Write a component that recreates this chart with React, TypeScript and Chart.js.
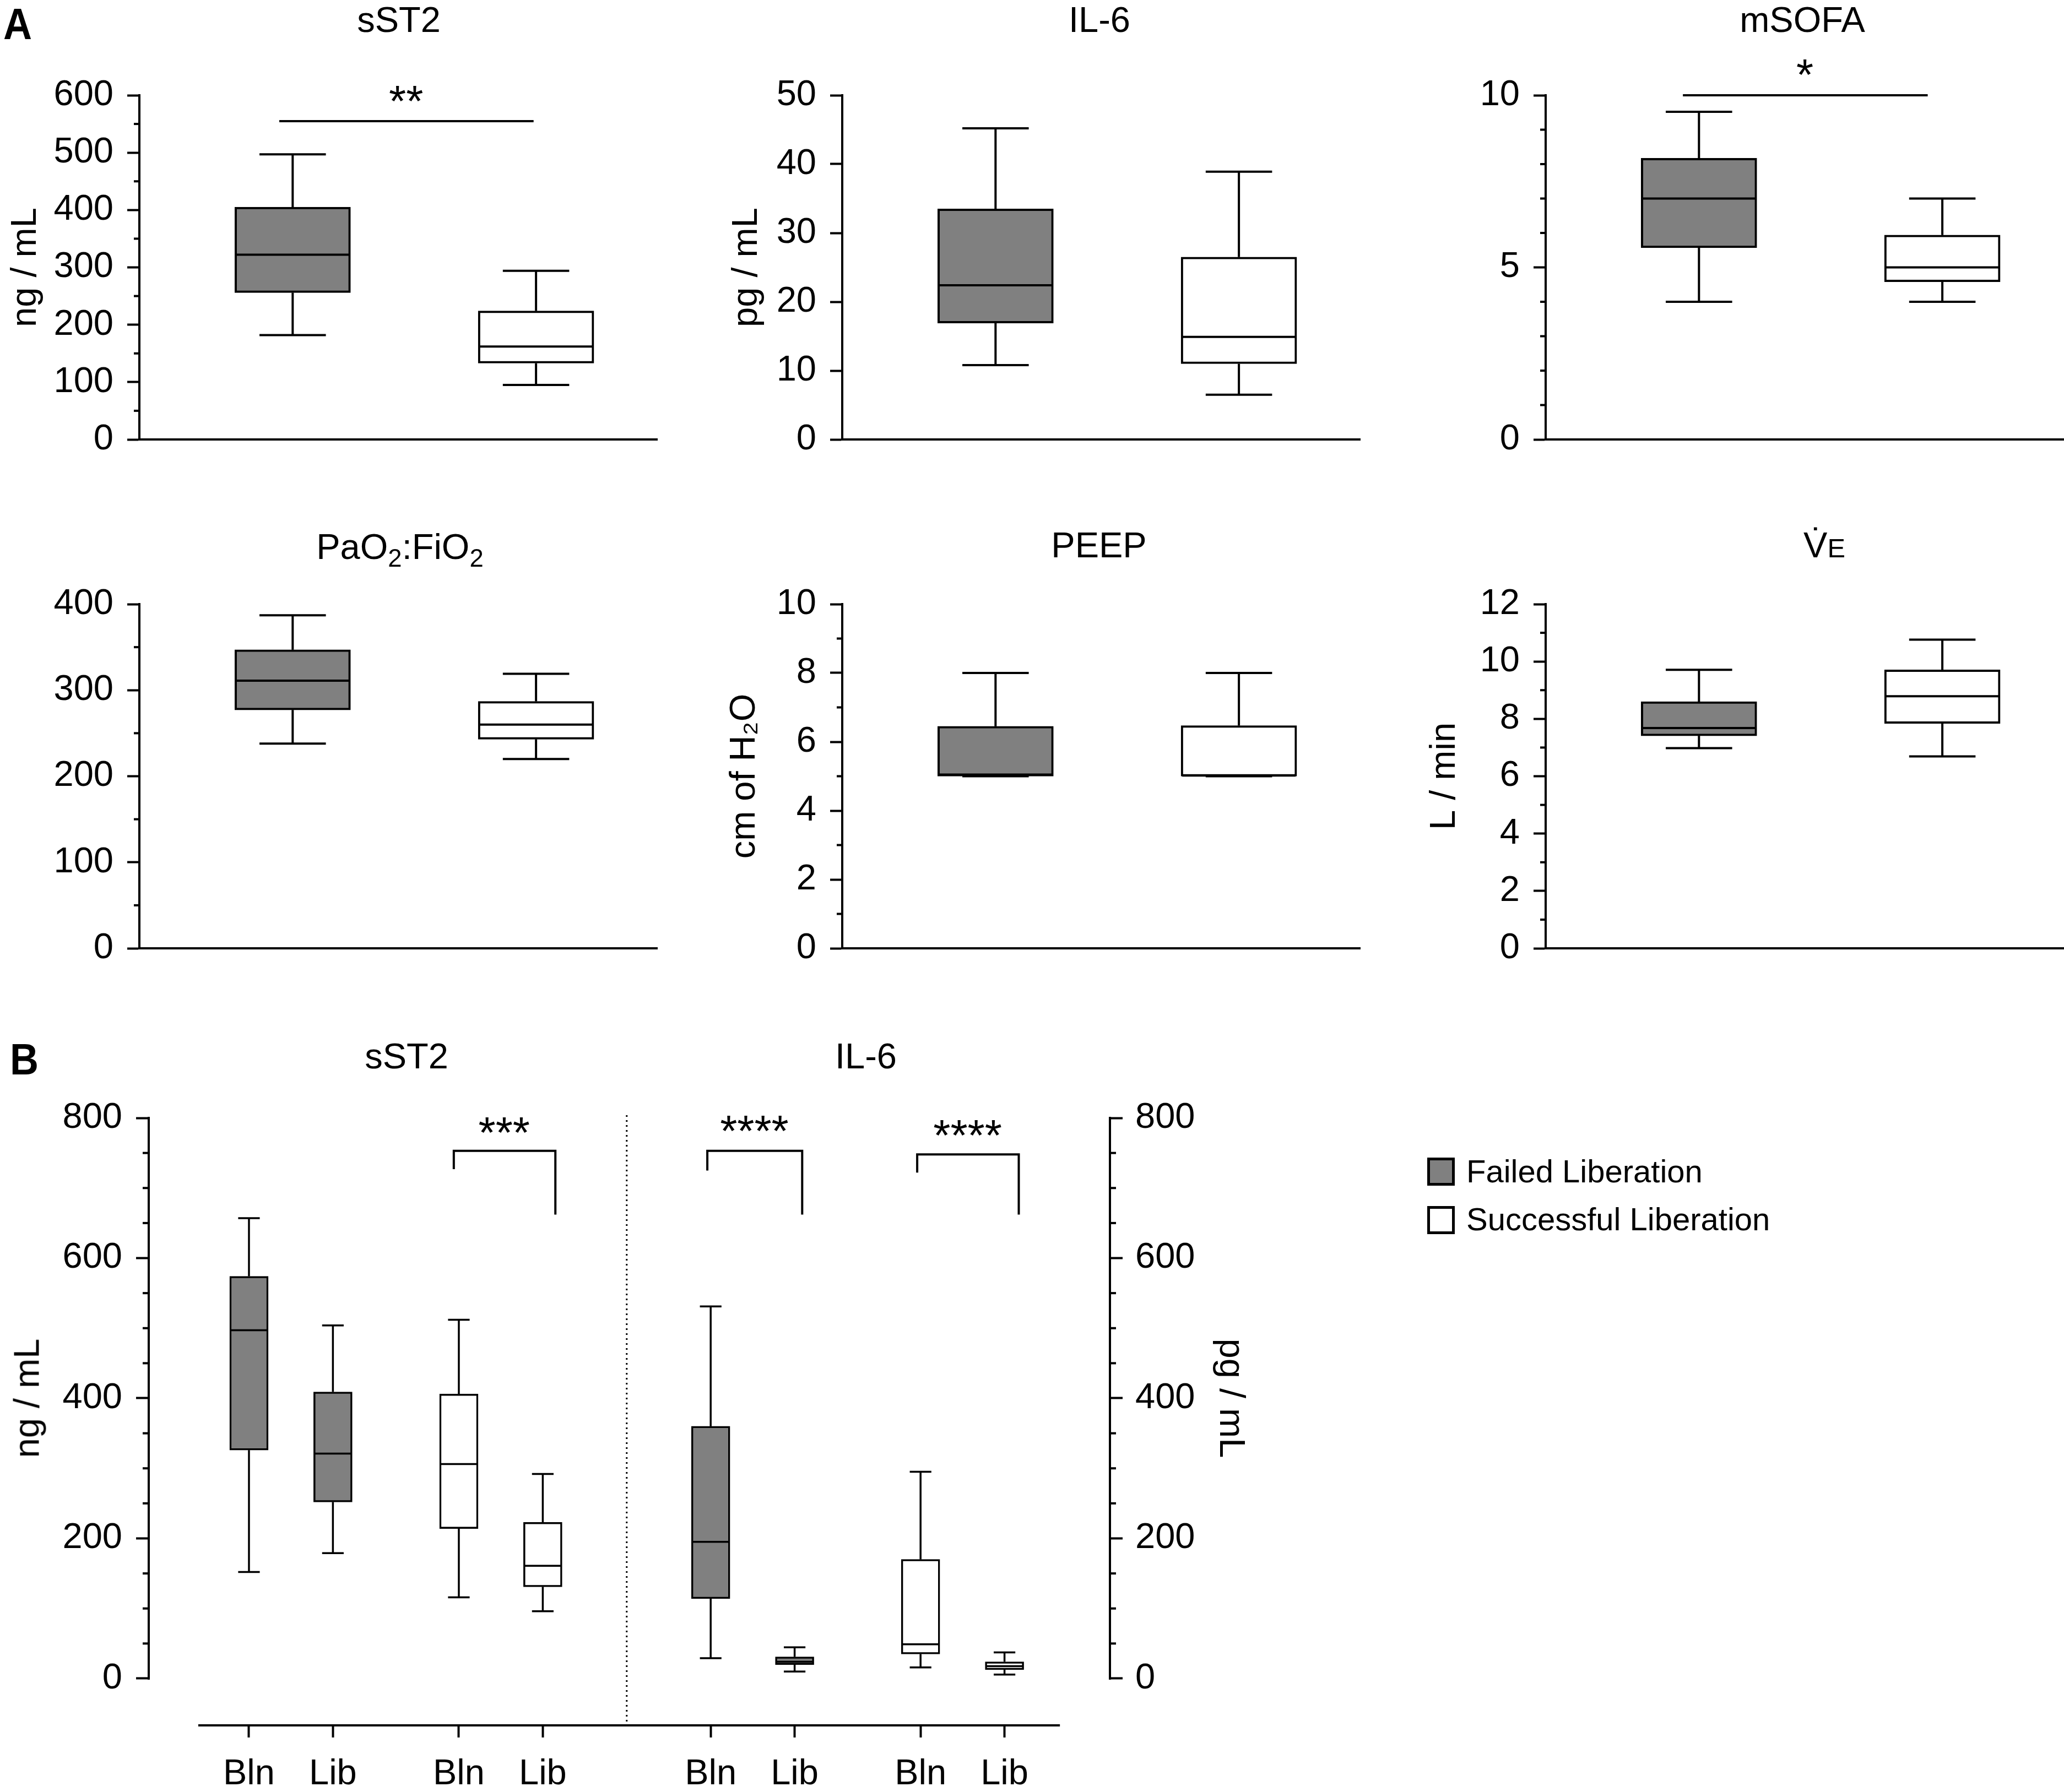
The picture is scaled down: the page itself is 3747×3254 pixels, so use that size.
import React, { useEffect, useRef } from "react";
import { Chart, registerables } from "chart.js";

Chart.register(...registerables);

const FONT = "'Liberation Sans', Arial, Helvetica, sans-serif";
Chart.defaults.font.family = FONT;
Chart.defaults.color = "#000";

const GRAY = "#808080";
const WHITE = "#ffffff";
const BLACK = "#000000";
const CLEAR = "rgba(0,0,0,0)";
const STAR_SIZE = 80;

// ---------------- Panel A: box statistics [min, Q1, median, Q3, max] ----------------
const groupNames = ["Failed Liberation", "Successful Liberation"];

const sst2Failed = [182, 256, 322, 405, 497];
const sst2Success = [95, 133, 162, 224, 294];
const il6Failed = [10.8, 16.9, 22.4, 33.5, 45.2];
const il6Success = [6.5, 11.0, 14.9, 26.5, 38.9];
const msofaFailed = [4, 5.57, 7, 8.17, 9.52];
const msofaSuccess = [4, 4.58, 5, 5.94, 7];
const pfFailed = [238, 277, 311, 347, 387];
const pfSuccess = [220, 243, 260, 287, 319];
const peepFailed = [5, 5, 5.05, 6.45, 8];
const peepSuccess = [5, 5, 5.02, 6.47, 8];
const veFailed = [6.98, 7.41, 7.68, 8.6, 9.71];
const veSuccess = [6.69, 7.84, 8.79, 9.71, 10.76];

// ---------------- Panel A: y-axis tick marks and labelled ticks ----------------
const sst2Ticks = [0, 50, 100, 150, 200, 250, 300, 350, 400, 450, 500, 550, 600];
const sst2Labels = [0, 100, 200, 300, 400, 500, 600];
const il6Ticks = [0, 10, 20, 30, 40, 50];
const il6Labels = [0, 10, 20, 30, 40, 50];
const msofaTicks = [0, 1, 2, 3, 4, 5, 6, 7, 8, 9, 10];
const msofaLabels = [0, 5, 10];
const pfTicks = [0, 50, 100, 150, 200, 250, 300, 350, 400];
const pfLabels = [0, 100, 200, 300, 400];
const peepTicks = [0, 1, 2, 3, 4, 5, 6, 7, 8, 9, 10];
const peepLabels = [0, 2, 4, 6, 8, 10];
const veTicks = [0, 1, 2, 3, 4, 5, 6, 7, 8, 9, 10, 11, 12];
const veLabels = [0, 2, 4, 6, 8, 10, 12];
const groupSlotsA = [1, 2];

// significance annotations (data coordinates)
const sst2Sig = { from: 0.945, to: 1.99, level: 555, text: "**", textX: 1.466, textLevel: 608 };
const msofaSig = { from: 0.934, to: 1.94, level: 10, text: "*", textX: 1.435, textLevel: 10.91 };

// ---------------- Panel B ----------------
const bCategoryLabels = ["Bln", "Lib", "Bln", "Lib", "Bln", "Lib", "Bln", "Lib"];
const bSlots = [1, 2, 3.5, 4.5, 6.5, 7.5, 9, 10];
const sst2FailedBln = [152, 326, 497, 574, 657];
const sst2FailedLib = [179, 252, 321, 409, 504];
const sst2SuccessBln = [116, 214, 306, 406, 512];
const sst2SuccessLib = [96, 131, 161, 223, 292];
const il6FailedBln = [29, 114, 195, 360, 531];
const il6FailedLib = [10, 19.7, 24, 31, 44.5];
const il6SuccessBln = [16, 35, 49, 170, 295];
const il6SuccessLib = [5.6, 12.7, 17.6, 24, 37.4];
const bTicks = [0, 50, 100, 150, 200, 250, 300, 350, 400, 450, 500, 550, 600, 650, 700, 750, 800];
const bLabels = [0, 200, 400, 600, 800];
const bBrackets = [
  { axis: "y", from: 3.44, to: 4.65, level: 753, leftEnd: 727, rightEnd: 662, text: "***", textX: 4.04, textLevel: 794 },
  { axis: "y2", from: 6.46, to: 7.59, level: 753, leftEnd: 725, rightEnd: 662, text: "****", textX: 7.02, textLevel: 796 },
  { axis: "y2", from: 8.96, to: 10.17, level: 748, leftEnd: 722, rightEnd: 662, text: "****", textX: 9.56, textLevel: 790 },
];

// ---------------- plugins ----------------
function seg(ctx: CanvasRenderingContext2D, x1: number, y1: number, x2: number, y2: number) {
  ctx.beginPath();
  ctx.moveTo(x1, y1);
  ctx.lineTo(x2, y2);
  ctx.stroke();
}

function drawStars(ctx: CanvasRenderingContext2D, text: string, cx: number, cy: number) {
  ctx.save();
  ctx.fillStyle = BLACK;
  ctx.font = `${STAR_SIZE}px ${FONT}`;
  ctx.textAlign = "center";
  ctx.textBaseline = "alphabetic";
  ctx.fillText(text, cx, cy + 0.58 * STAR_SIZE);
  ctx.restore();
}

function boxWhiskerPlugin(lineWidth: number, capRatio: number) {
  return {
    id: "boxWhisker",
    afterDatasetsDraw(chart: any) {
      const ctx = chart.ctx;
      chart.data.datasets.forEach((ds: any, di: number) => {
        const meta = chart.getDatasetMeta(di);
        const ys = chart.scales[ds.yAxisID || "y"];
        (ds.stats || []).forEach((s: number[], i: number) => {
          const el = meta.data[i];
          if (!el) return;
          const cx = el.x;
          const half = el.width / 2;
          const cap = half * capRatio;
          const [mn, q1, med, q3, mx] = s;
          const p = (v: number) => ys.getPixelForValue(v);
          ctx.save();
          ctx.strokeStyle = BLACK;
          ctx.lineWidth = lineWidth;
          ctx.lineCap = "butt";
          seg(ctx, cx, p(q3), cx, p(mx));
          seg(ctx, cx - cap, p(mx), cx + cap, p(mx));
          seg(ctx, cx, p(q1), cx, p(mn));
          seg(ctx, cx - cap, p(mn), cx + cap, p(mn));
          seg(ctx, cx - half + lineWidth / 2, p(med), cx + half - lineWidth / 2, p(med));
          ctx.restore();
        });
      });
    },
  };
}

function minorTickPlugin(axes: { id: string; side: string; values: number[]; length: number; width: number }[]) {
  return {
    id: "minorTicks",
    afterDraw(chart: any) {
      const ctx = chart.ctx;
      const area = chart.chartArea;
      axes.forEach((a) => {
        const s = chart.scales[a.id];
        ctx.save();
        ctx.strokeStyle = BLACK;
        ctx.lineWidth = a.width;
        a.values.forEach((v) => {
          const y = s.getPixelForValue(v);
          const x0 = a.side === "left" ? area.left : area.right;
          const x1 = a.side === "left" ? x0 - a.length : x0 + a.length;
          seg(ctx, x0, y, x1, y);
        });
        ctx.restore();
      });
    },
  };
}

function sigPlugin(sig: any) {
  return {
    id: "sigA",
    afterDraw(chart: any) {
      if (!sig) return;
      const ctx = chart.ctx;
      const x = chart.scales.x;
      const y = chart.scales.y;
      ctx.save();
      ctx.strokeStyle = BLACK;
      ctx.lineWidth = 4;
      const py = y.getPixelForValue(sig.level);
      seg(ctx, x.getPixelForValue(sig.from), py, x.getPixelForValue(sig.to), py);
      ctx.restore();
      drawStars(ctx, sig.text, x.getPixelForValue(sig.textX), y.getPixelForValue(sig.textLevel));
    },
  };
}

// ---------------- Panel A layout ----------------
const AXIS_W = 253;
const PLOT_W = 941;
const PLOT_H = 625;
const PAD_TOP = 100;
const PAD_BOTTOM = 90;
const COL_AXIS_X = [253, 1529, 2806];
const ROW_TOP = [173, 1097];

const panelsA = [
  { key: "sst2", failed: sst2Failed, success: sst2Success, ticks: sst2Ticks, labels: sst2Labels, yTitle: "ng / mL", titlePad: 8, col: 0, row: 0, sig: sst2Sig },
  { key: "il6", failed: il6Failed, success: il6Success, ticks: il6Ticks, labels: il6Labels, yTitle: "pg / mL", titlePad: 41, col: 1, row: 0, sig: null },
  { key: "msofa", failed: msofaFailed, success: msofaSuccess, ticks: msofaTicks, labels: msofaLabels, yTitle: "", titlePad: 0, col: 2, row: 0, sig: msofaSig },
  { key: "pf", failed: pfFailed, success: pfSuccess, ticks: pfTicks, labels: pfLabels, yTitle: "", titlePad: 0, col: 0, row: 1, sig: null },
  { key: "peep", failed: peepFailed, success: peepSuccess, ticks: peepTicks, labels: peepLabels, yTitle: "cm of H\u2082O", titlePad: 37, col: 1, row: 1, sig: null },
  { key: "ve", failed: veFailed, success: veSuccess, ticks: veTicks, labels: veLabels, yTitle: "L / min", titlePad: 31, col: 2, row: 1, sig: null },
];

function configA(p: any) {
  const labelled = (v: number) => p.labels.includes(v);
  return {
    type: "bar",
    data: {
      datasets: [
        {
          label: p.key,
          data: [
            { x: groupSlotsA[0], y: [p.failed[1], p.failed[3]] },
            { x: groupSlotsA[1], y: [p.success[1], p.success[3]] },
          ],
          stats: [p.failed, p.success],
          backgroundColor: [GRAY, WHITE],
          borderColor: BLACK,
          borderWidth: 4,
          borderSkipped: false,
          grouped: false,
          barPercentage: 1,
          categoryPercentage: 1,
          maxBarThickness: 210,
        },
      ],
    },
    options: {
      animation: false,
      responsive: false,
      devicePixelRatio: 1,
      layout: { padding: { top: PAD_TOP, bottom: PAD_BOTTOM, left: 0, right: 0 } },
      plugins: { legend: { display: false }, tooltip: { enabled: false } },
      scales: {
        x: {
          type: "linear",
          min: 0.37,
          max: 2.5,
          offset: false,
          afterBuildTicks: (s: any) => {
            s.ticks = groupSlotsA.map((v) => ({ value: v }));
          },
          ticks: { display: false },
          grid: { display: false, offset: false },
          border: { display: true, color: BLACK, width: 4 },
          afterFit: (s: any) => {
            s.height = 0;
          },
        },
        y: {
          type: "linear",
          min: 0,
          max: p.ticks[p.ticks.length - 1],
          afterBuildTicks: (s: any) => {
            s.ticks = p.ticks.map((v: number) => ({ value: v }));
          },
          afterFit: (s: any) => {
            s.width = AXIS_W;
          },
          ticks: {
            autoSkip: false,
            padding: 25,
            color: BLACK,
            font: { size: 65, family: FONT },
            callback: (v: number) => (labelled(v) ? String(v) : ""),
          },
          grid: {
            display: true,
            drawOnChartArea: false,
            drawTicks: true,
            tickLength: 22,
            tickWidth: 4,
            tickColor: (c: any) => (labelled(c.tick.value) ? BLACK : CLEAR),
          },
          border: { display: true, color: BLACK, width: 4 },
          title: {
            display: !!p.yTitle,
            text: p.yTitle,
            color: BLACK,
            font: { size: 65, family: FONT },
            padding: { top: p.titlePad, bottom: 0 },
          },
        },
      },
    },
    plugins: [
      boxWhiskerPlugin(4, 0.574),
      minorTickPlugin([{ id: "y", side: "left", values: p.ticks.filter((v: number) => !labelled(v)), length: 10, width: 4 }]),
      sigPlugin(p.sig),
    ],
  };
}

// ---------------- Panel B layout ----------------
const B_TOP = 1960;
const B_W = 2200;
const B_H = 1294;
const B_MIN = -66.8;
const B_AXIS_FROM = 0.396;
const B_AXIS_TO = 10.66;
const B_DIVIDER = 5.5;

function panelBExtras() {
  return {
    id: "panelBExtras",
    afterDraw(chart: any) {
      const ctx = chart.ctx;
      const area = chart.chartArea;
      const x = chart.scales.x;
      const y = chart.scales.y;
      const y2 = chart.scales.y2;
      ctx.save();
      ctx.strokeStyle = BLACK;
      ctx.lineWidth = 4;
      ctx.lineCap = "square";
      seg(ctx, area.left, y.getPixelForValue(0), area.left, y.getPixelForValue(800));
      seg(ctx, area.right, y2.getPixelForValue(0), area.right, y2.getPixelForValue(800));
      ctx.lineCap = "butt";
      seg(ctx, x.getPixelForValue(B_AXIS_FROM), area.bottom, x.getPixelForValue(B_AXIS_TO), area.bottom);
      ctx.lineWidth = 3;
      ctx.setLineDash([3, 6]);
      const dx = x.getPixelForValue(B_DIVIDER);
      seg(ctx, dx, y.getPixelForValue(804), dx, area.bottom);
      ctx.setLineDash([]);
      ctx.lineWidth = 4;
      bBrackets.forEach((b) => {
        const s = chart.scales[b.axis];
        const xl = x.getPixelForValue(b.from);
        const xr = x.getPixelForValue(b.to);
        const yl = s.getPixelForValue(b.level);
        ctx.beginPath();
        ctx.moveTo(xl, s.getPixelForValue(b.leftEnd));
        ctx.lineTo(xl, yl);
        ctx.lineTo(xr, yl);
        ctx.lineTo(xr, s.getPixelForValue(b.rightEnd));
        ctx.stroke();
        drawStars(ctx, b.text, x.getPixelForValue(b.textX), s.getPixelForValue(b.textLevel));
      });
      ctx.restore();
    },
  };
}

function configB() {
  const sst = [sst2FailedBln, sst2FailedLib, sst2SuccessBln, sst2SuccessLib];
  const il = [il6FailedBln, il6FailedLib, il6SuccessBln, il6SuccessLib];
  const fills = [GRAY, GRAY, WHITE, WHITE];
  const labelled = (v: number) => bLabels.includes(v);
  const common = {
    backgroundColor: fills,
    borderColor: BLACK,
    borderWidth: 3.5,
    borderSkipped: false,
    grouped: false,
    barPercentage: 1,
    categoryPercentage: 1,
    maxBarThickness: 70,
  };
  const yAxis = (position: string, width: number, padding: number) => ({
    type: "linear",
    position,
    min: B_MIN,
    max: 800,
    afterBuildTicks: (s: any) => {
      s.ticks = bTicks.map((v) => ({ value: v }));
    },
    afterFit: (s: any) => {
      s.width = width;
    },
    ticks: {
      autoSkip: false,
      padding,
      color: BLACK,
      font: { size: 65, family: FONT },
      callback: (v: number) => (labelled(v) ? String(v) : ""),
    },
    grid: {
      display: true,
      drawOnChartArea: false,
      drawTicks: true,
      tickLength: 23,
      tickWidth: 4,
      tickColor: (c: any) => (labelled(c.tick.value) ? BLACK : CLEAR),
    },
    border: { display: false },
  });
  return {
    type: "bar",
    data: {
      datasets: [
        { label: "sST2", yAxisID: "y", data: sst.map((s, i) => ({ x: bSlots[i], y: [s[1], s[3]] })), stats: sst, ...common },
        { label: "IL-6", yAxisID: "y2", data: il.map((s, i) => ({ x: bSlots[i + 4], y: [s[1], s[3]] })), stats: il, ...common },
      ],
    },
    options: {
      animation: false,
      responsive: false,
      devicePixelRatio: 1,
      layout: { padding: { top: 70, bottom: 0, left: 0, right: 0 } },
      plugins: { legend: { display: false }, tooltip: { enabled: false } },
      scales: {
        x: {
          type: "linear",
          min: -0.194,
          max: 11.256,
          offset: false,
          afterBuildTicks: (s: any) => {
            s.ticks = bSlots.map((v) => ({ value: v }));
          },
          afterFit: (s: any) => {
            s.height = 121;
          },
          ticks: {
            autoSkip: false,
            maxRotation: 0,
            minRotation: 0,
            padding: 28,
            color: BLACK,
            font: { size: 65, family: FONT },
            callback: (_v: number, i: number) => bCategoryLabels[i],
          },
          grid: { display: true, offset: false, drawOnChartArea: false, drawTicks: true, tickLength: 22, tickWidth: 4, tickColor: BLACK },
          border: { display: false },
        },
        y: yAxis("left", 270, 25),
        y2: yAxis("right", B_W - 2015, 23),
      },
    },
    plugins: [
      boxWhiskerPlugin(3.5, 0.56),
      minorTickPlugin([
        { id: "y", side: "left", values: bTicks.filter((v) => !labelled(v)), length: 11, width: 4 },
        { id: "y2", side: "right", values: bTicks.filter((v) => !labelled(v)), length: 11, width: 4 },
      ]),
      panelBExtras(),
    ],
  };
}

// ---------------- components ----------------
function ChartCanvas({ left, top, width, height, make }: any) {
  const ref = useRef<HTMLCanvasElement>(null);
  useEffect(() => {
    const chart = new Chart(ref.current as HTMLCanvasElement, make());
    return () => chart.destroy();
  }, []);
  return (
    <canvas
      ref={ref}
      width={width}
      height={height}
      style={{ position: "absolute", left, top, width, height, display: "block" }}
    />
  );
}

function Label({ x, top, size = 65, bold = false, center = true, children }: any) {
  return (
    <div
      style={{
        position: "absolute",
        left: x,
        top,
        transform: center ? "translateX(-50%)" : undefined,
        fontSize: size,
        lineHeight: 1,
        fontWeight: bold ? 700 : 400,
        whiteSpace: "nowrap",
      }}
    >
      {children}
    </div>
  );
}

function PanelLetter({ x, top, children }: any) {
  return (
    <div
      style={{
        position: "absolute",
        left: x,
        top,
        fontSize: 80,
        lineHeight: 1,
        fontWeight: 700,
        transform: "scaleX(0.9)",
        transformOrigin: "left top",
        whiteSpace: "nowrap",
      }}
    >
      {children}
    </div>
  );
}

const sub = { fontSize: "0.7em", position: "relative" as const, top: "0.3em" };

export default function App() {
  return (
    <div
      style={{
        position: "absolute",
        left: 0,
        top: 0,
        width: 3747,
        height: 3254,
        overflow: "hidden",
        background: WHITE,
        color: BLACK,
        fontFamily: FONT,
      }}
    >
      {panelsA.map((p) => (
        <ChartCanvas
          key={p.key}
          left={COL_AXIS_X[p.col] - AXIS_W}
          top={ROW_TOP[p.row] - PAD_TOP}
          width={AXIS_W + PLOT_W}
          height={PAD_TOP + PLOT_H + PAD_BOTTOM}
          make={() => configA(p)}
        />
      ))}
      <ChartCanvas left={0} top={B_TOP} width={B_W} height={B_H} make={configB} />

      {/* panel letters */}
      <PanelLetter x={6} top={4}>A</PanelLetter>
      <PanelLetter x={18} top={1884}>B</PanelLetter>

      {/* panel A titles */}
      <Label x={724} top={3}>sST2</Label>
      <Label x={1996} top={3}>IL-6</Label>
      <Label x={3272} top={3}>mSOFA</Label>
      <Label x={726} top={960}>
        PaO<span style={sub}>2</span>:FiO<span style={sub}>2</span>
      </Label>
      <Label x={1995} top={957}>PEEP</Label>
      <Label x={3312} top={957}>
        V{"\u0307"}<span style={{ fontSize: "0.75em" }}>E</span>
      </Label>

      {/* panel B titles */}
      <Label x={738} top={1885}>sST2</Label>
      <Label x={1572} top={1885}>IL-6</Label>

      {/* panel B axis titles */}
      <div
        style={{
          position: "absolute",
          left: 48,
          top: 2539,
          transform: "translate(-50%, -50%) rotate(-90deg)",
          fontSize: 65,
          lineHeight: 1,
          whiteSpace: "nowrap",
        }}
      >
        ng / mL
      </div>
      <div
        style={{
          position: "absolute",
          left: 2237,
          top: 2539,
          transform: "translate(-50%, -50%) rotate(90deg)",
          fontSize: 65,
          lineHeight: 1,
          whiteSpace: "nowrap",
        }}
      >
        pg / mL
      </div>

      {/* legend */}
      <div style={{ position: "absolute", left: 2591, top: 2102, width: 50, height: 51, boxSizing: "border-box", border: "5px solid #000", background: GRAY }} />
      <Label x={2662} top={2098} size={58} center={false}>{groupNames[0]}</Label>
      <div style={{ position: "absolute", left: 2591, top: 2190, width: 50, height: 51, boxSizing: "border-box", border: "5px solid #000", background: WHITE }} />
      <Label x={2662} top={2185} size={58} center={false}>{groupNames[1]}</Label>
    </div>
  );
}
